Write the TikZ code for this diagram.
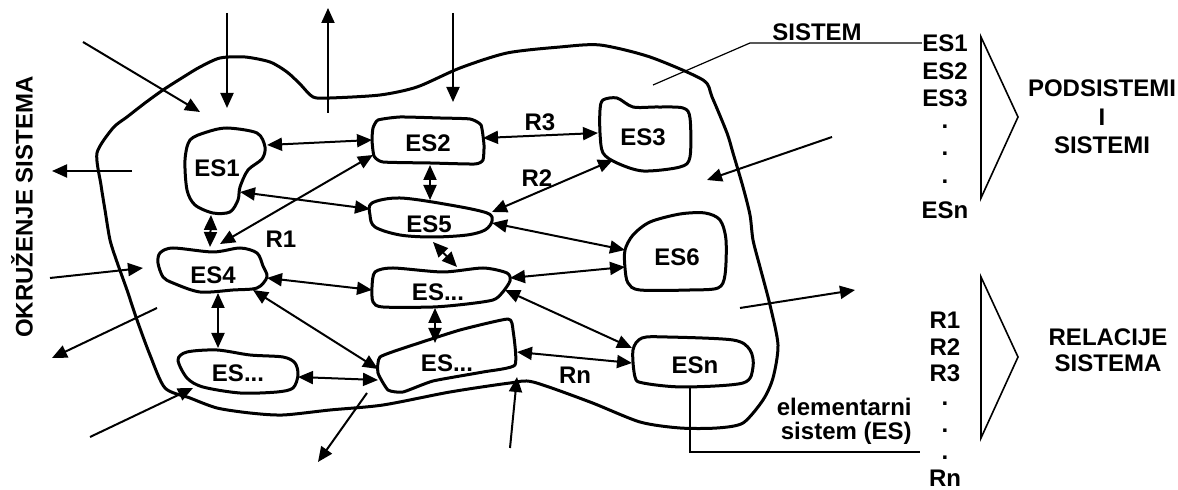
\documentclass[tikz,border=0pt]{standalone}
\usepackage{fontspec}
\setmainfont{Liberation Sans}
\usetikzlibrary{arrows.meta,calc}
\begin{document}
\begin{tikzpicture}[x=0.5pt,y=-0.5pt,
  blob/.style={line width=1.5pt, line join=round},
  lbl/.style={font=\fontsize{12}{14}\selectfont\bfseries, inner sep=0pt},
  rel/.style={line width=1pt, {Triangle[length=7.5pt,width=6.5pt]}-{Triangle[length=7.5pt,width=6.5pt]}},
  ext/.style={line width=1pt, -{Triangle[length=7.5pt,width=6.5pt]}},
  thinline/.style={line width=0.6pt},
  brace/.style={line width=0.8pt, line join=miter},
]
\useasboundingbox (0,0) rectangle (1178,490);

% system boundary
\draw[blob] plot[smooth cycle, tension=0.45] coordinates {
 (97,153) (113,128) (127,117) (145,103) (163,90) (185,76) (200,67) (220,58) (245,57) (270,62)
 (287,72) (300,84) (313,97) (330,98) (380,95) (417,87) (460,68) (507,53) (560,47) (600,45)
 (650,57) (703,80) (712,97) (727,133) (733,153) (743,187) (750,215) (753,240) (760,267)
 (770,305) (778,345) (773,378) (763,400) (743,423) (717,428) (680,428) (640,422) (590,402)
 (533,382) (510,383) (450,392) (383,405) (330,410) (283,415) (250,413) (217,408) (190,398)
 (165,388) (150,355) (137,320) (127,290) (117,262) (110,240) (105,210) (101,185)};

% text nodes of the elementary systems
\node[lbl] (es1) at (217,168) {ES1};
\node[lbl] (es2) at (428,143) {ES2};
\node[lbl] (es3) at (643,137) {ES3};
\node[lbl] (es5) at (429,224) {ES5};
\node[lbl] (es4) at (213,275) {ES4};
\node[lbl] (esm) at (438,292) {ES...};
\node[lbl] (es6) at (677,257) {ES6};
\node[lbl] (esl) at (447,363) {ES...};
\node[lbl] (esll) at (238,373) {ES...};
\node[lbl] (esn) at (695,365) {ESn};

% blob outlines
\draw[blob] plot[smooth cycle, tension=0.5] coordinates {(227,128) (257,133) (265,147) (262,159) (248,170) (240,187) (238,200) (230,212) (213,213) (195,205) (187,190) (185,160) (190,140) (207,132)};
\draw[blob] plot[smooth cycle, tension=0.3] coordinates {(378,120) (400,117) (440,118) (470,119) (481,125) (484,145) (483,160) (475,164) (430,163) (383,162) (374,156) (372,140) (373,128)};
\draw[blob] plot[smooth cycle, tension=0.5] coordinates {(603,100) (617,98) (633,107) (657,107) (683,108) (690,118) (690,157) (680,167) (643,171) (617,163) (603,153) (600,133) (600,110)};
\draw[blob] plot[smooth cycle, tension=0.55] coordinates {(372,203) (400,198) (450,205) (487,213) (492,221) (485,230) (467,235) (433,237) (400,235) (375,227) (370,215)};
\draw[blob] plot[smooth cycle, tension=0.5] coordinates {(160,253) (173,248) (213,252) (240,248) (257,253) (263,266) (267,277) (257,288) (233,290) (200,292) (173,283) (163,277) (158,263)};
\draw[blob] plot[smooth cycle, tension=0.45] coordinates {(375,272) (393,268) (443,272) (483,268) (507,273) (510,281) (502,293) (493,300) (467,304) (433,307) (383,307) (373,302) (372,287)};
\draw[blob] plot[smooth cycle, tension=0.5] coordinates {(625,250) (633,235) (650,222) (680,214) (705,213) (720,220) (726,240) (725,275) (718,288) (690,290) (640,290) (628,283) (625,268)};
\draw[blob] plot[smooth cycle, tension=0.3] coordinates {(380,357) (410,346) (460,330) (508,319) (513,330) (515,365) (483,372) (433,381) (403,392) (388,390) (378,373)};
\draw[blob] plot[smooth cycle, tension=0.5] coordinates {(178,360) (187,352) (217,350) (250,355) (283,357) (295,363) (298,375) (293,388) (277,392) (240,393) (203,387) (187,378)};
\draw[blob] plot[smooth cycle, tension=0.5] coordinates {(633,350) (642,338) (667,337) (733,340) (750,350) (753,367) (743,383) (683,387) (643,383) (635,377)};

% relations between elementary systems
\draw[rel] ($(es1)+(50,-23)$) -- ($(es2)+(-56,-3)$);
\draw[rel] ($(es1)+(23,24)$) -- ($(es5)+(-59,-15)$);
\draw[rel] ($(es4)+(7,-31)$) -- ($(es2)+(-55,12)$);
\draw[rel] ($(es1)+(-6,47)$) -- ($(es4)+(-3,-28)$);
\draw[rel] ($(es2)+(2,22)$) -- ($(es5)+(1,-24)$);
\draw[rel] ($(es2)+(55,-5)$) -- ($(es3)+(-45,-4)$);
\draw[rel] ($(es5)+(63,-12)$) -- ($(es3)+(-30,23)$);
\draw[rel] ($(es5)+(63,-1)$) -- ($(es6)+(-52,-7)$);
\draw[rel] ($(es5)+(4,18)$) -- ($(esm)+(19,-25)$);
\draw[rel] ($(esm)+(72,-14)$) -- ($(es6)+(-52,10)$);
\draw[rel] ($(es4)+(54,3)$) -- ($(esm)+(-66,-2)$);
\draw[rel] ($(es4)+(5,18)$) -- ($(esll)+(-20,-25)$);
\draw[rel] ($(es4)+(40,15)$) -- ($(esl)+(-69,6)$);
\draw[rel] ($(esll)+(60,4)$) -- ($(esl)+(-69,17)$);
\draw[rel] ($(esm)+(-3,16)$) -- ($(esl)+(-12,-20)$);
\draw[rel] ($(esm)+(67,-2)$) -- ($(esn)+(-63,-17)$);
\draw[rel] ($(esl)+(70,-11)$) -- ($(esn)+(-63,-2)$);

\node[lbl] (r1) at (281,239) {R1};
\node[lbl] (r3) at (540,122) {R3};
\node[lbl] (r2) at (537,178) {R2};
\node[lbl] (rn) at (575,375) {Rn};

% exchanges with the environment
\draw[ext] (83,42) coordinate (a1) -- (200,112) coordinate (b1);
\draw[ext] (227,13) coordinate (a2) -- (227,108) coordinate (b2);
\draw[ext] (328,113) coordinate (a3) -- (328,8) coordinate (b3);
\draw[ext] (453,13) coordinate (a4) -- (453,102) coordinate (b4);
\draw[ext] (132,171) coordinate (a5) -- (52,171) coordinate (b5);
\draw[ext] (832,137) coordinate (a6) -- (707,180) coordinate (b6);
\draw[ext] (50,278) coordinate (a7) -- (143,268) coordinate (b7);
\draw[ext] (157,308) coordinate (a8) -- (52,358) coordinate (b8);
\draw[ext] (90,437) coordinate (a9) -- (193,388) coordinate (b9);
\draw[ext] (367,393) coordinate (a10) -- (318,462) coordinate (b10);
\draw[ext] (510,448) coordinate (a11) -- (517,377) coordinate (b11);
\draw[ext] (740,308) coordinate (a12) -- (855,290) coordinate (b12);

\node[lbl, rotate=90] (okr) at (22,207) {OKRUŽENJE SISTEMA};

% callouts
\node[lbl] (sistem) at (817,32) {SISTEM};
\node[lbl] (l1) at (945,43) {ES1};
\node[lbl] (l2) at (945,71) {ES2};
\node[lbl] (l3) at (945,98) {ES3};
\node[lbl] (l4) at (945,127) {.};
\node[lbl] (l5) at (945,154) {.};
\node[lbl] (l6) at (945,182) {.};
\node[lbl] (l7) at (945,210) {ESn};
\coordinate (sysp) at (653,85);
\draw[thinline] (sysp) -- (750,43) -- (l1.west);

\node[lbl, anchor=east] (el1) at (912,407) {elementarni};
\node[lbl, anchor=east] (el2) at (912,433) {sistem (ES)};
\draw[thinline] ($(esn)+(-5,23)$) -- (690,452) -- (920,452);

\node[lbl] (m1) at (945,320) {R1};
\node[lbl] (m2) at (945,347) {R2};
\node[lbl] (m3) at (945,373) {R3};
\node[lbl] (m4) at (945,404) {.};
\node[lbl] (m5) at (945,431) {.};
\node[lbl] (m6) at (945,458) {.};
\node[lbl] (m7) at (945,478) {Rn};

\draw[brace] (981,37) -- (981,198) -- (1018,117) -- cycle;
\draw[brace] (981,277) -- (981,438) -- (1018,357) -- cycle;

\node[lbl] (p1) at (1102,88) {PODSISTEMI};
\node[lbl] (p2) at (1102,117) {I};
\node[lbl] (p3) at (1102,145) {SISTEMI};
\node[lbl] (q1) at (1108,337) {RELACIJE};
\node[lbl] (q2) at (1108,363) {SISTEMA};
\end{tikzpicture}
\end{document}
